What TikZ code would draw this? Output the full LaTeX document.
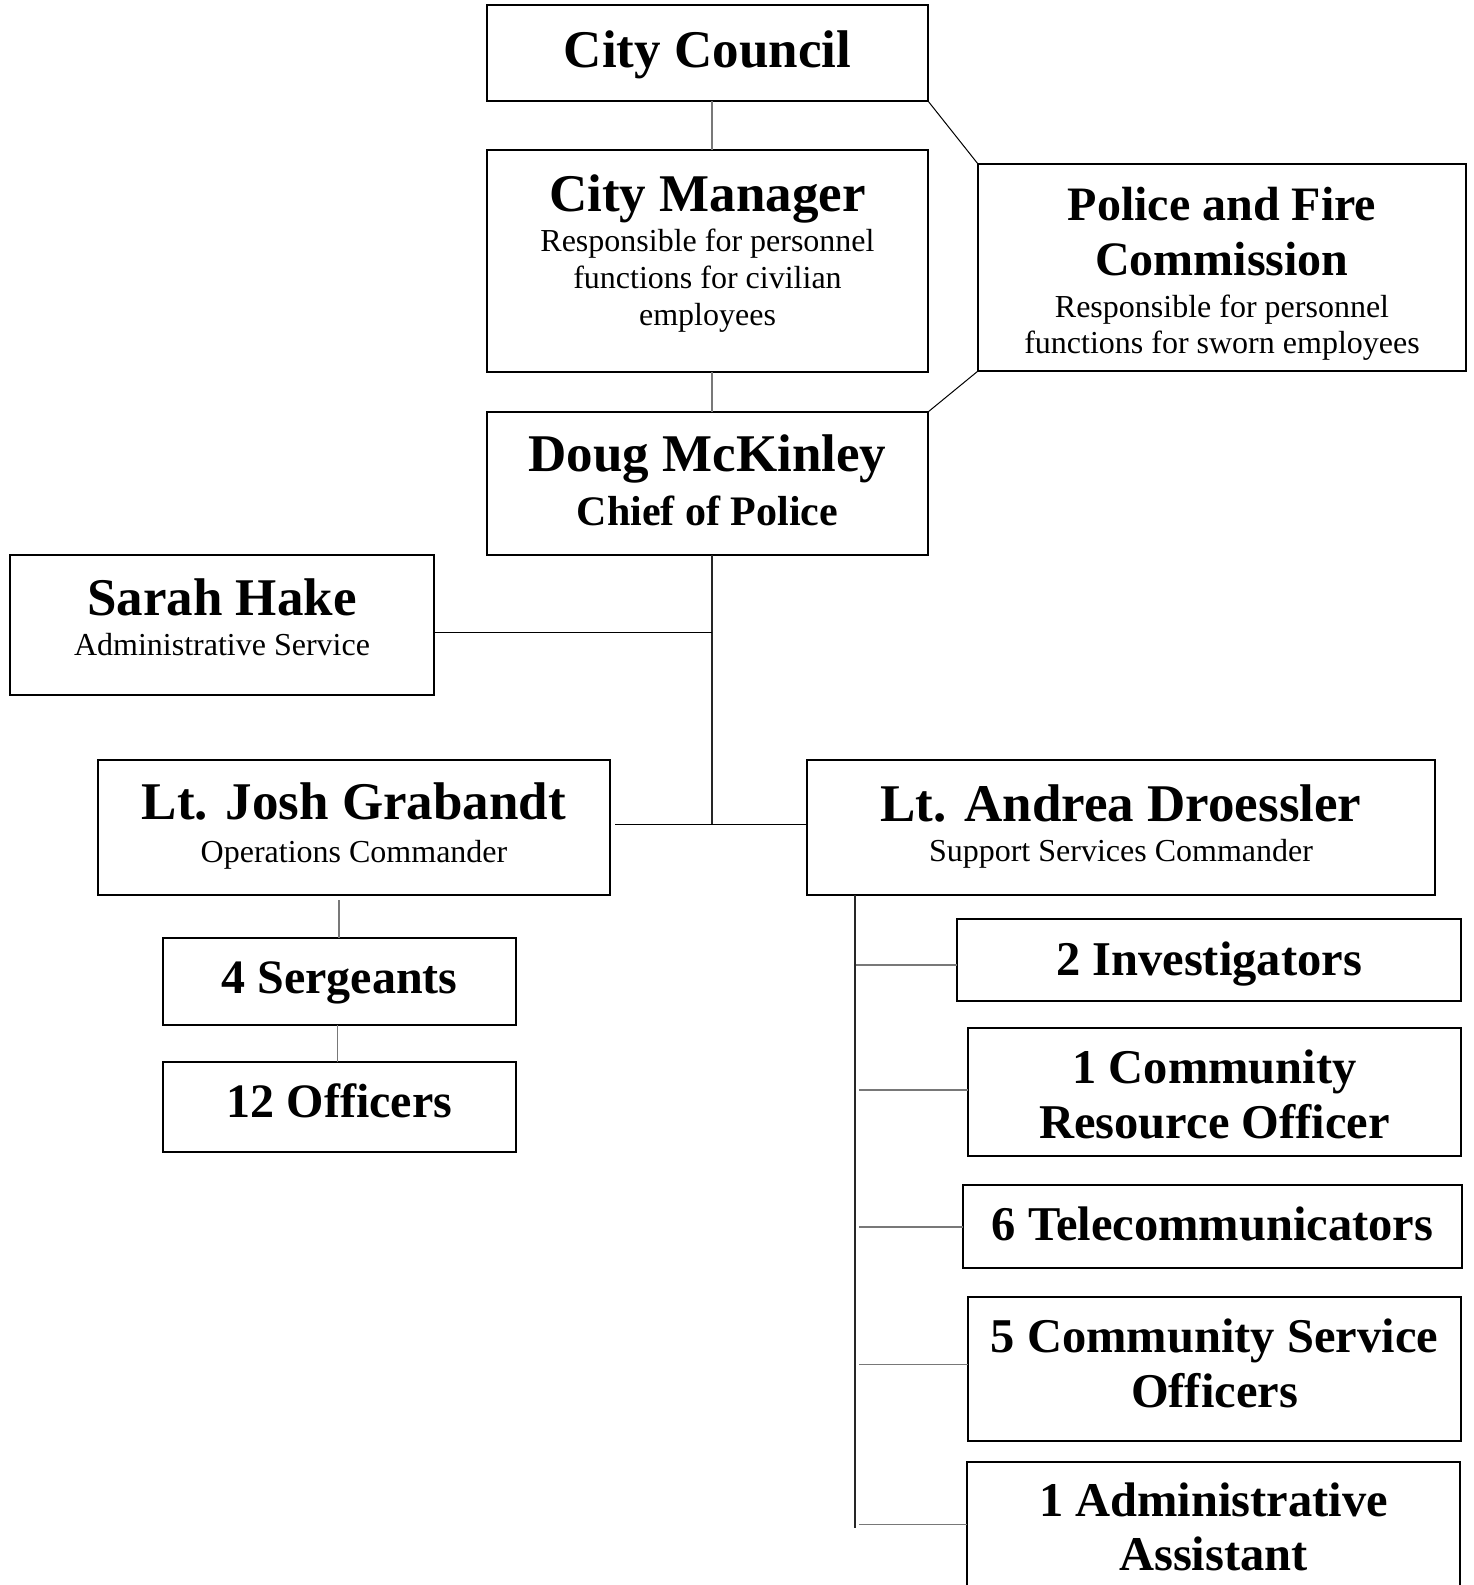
\documentclass[tikz,border=0pt]{standalone}
\usepackage{fontspec}
\setmainfont{Liberation Serif}
\definecolor{lgray}{RGB}{120,120,120}
\begin{document}
\begin{tikzpicture}[x=1pt,y=-1pt,
  box/.style={draw=black, line width=1.8pt, inner sep=0pt, outer sep=0pt, fill=white},
  tt/.style={inner sep=0pt, anchor=base},
  ta/.style={tt, font=\bfseries\fontsize{53}{60}\selectfont},
  tb/.style={tt, font=\bfseries\fontsize{48}{56}\selectfont},
  tc/.style={tt, font=\bfseries\fontsize{42}{50}\selectfont},
  td/.style={tt, font=\bfseries\fontsize{48.5}{56}\selectfont},
  ts/.style={tt, font=\fontsize{32}{38}\selectfont},
  conn/.style={draw=black, line width=1pt},
  trunk/.style={draw=black!85, line width=1.8pt},
  gconn/.style={draw=lgray, line width=1.2pt}]
\clip (0,0) rectangle (1473,1585);
\fill[white] (0,0) rectangle (1473,1585);

% boxes
\node[box, minimum width=441pt, minimum height=96pt] (cc) at (707.5,53) {};
\node[box, minimum width=441pt, minimum height=222pt] (cm) at (707.5,261) {};
\node[box, minimum width=488pt, minimum height=207pt] (pf) at (1222,267.5) {};
\node[box, minimum width=441pt, minimum height=143pt] (chief) at (707.5,483.5) {};
\node[box, minimum width=424pt, minimum height=140pt] (sarah) at (222,625) {};
\node[box, minimum width=512pt, minimum height=135pt] (josh) at (354,827.5) {};
\node[box, minimum width=628pt, minimum height=135pt] (andrea) at (1121,827.5) {};
\node[box, minimum width=353pt, minimum height=87pt] (serg) at (339.5,981.5) {};
\node[box, minimum width=353pt, minimum height=90pt] (off) at (339.5,1107) {};
\node[box, minimum width=504pt, minimum height=82pt] (inv) at (1209,960) {};
\node[box, minimum width=493pt, minimum height=128pt] (cro) at (1214.5,1092) {};
\node[box, minimum width=499pt, minimum height=83pt] (tele) at (1212.5,1226.5) {};
\node[box, minimum width=493pt, minimum height=144pt] (cso) at (1214.5,1369) {};
\node[box, minimum width=493pt, minimum height=158pt] (adm) at (1213.5,1541) {};

% texts
\node[ta] (cc-t) at (707.5,67) {City Council};
\node[ta] (cm-t) at (707.5,211) {City Manager};
\node[ts] (cm-s1) at (707.5,251) {Responsible for personnel};
\node[ts] (cm-s2) at (707.5,288) {functions for civilian};
\node[ts] (cm-s3) at (707.5,325) {employees};
\node[tb] (pf-t1) at (1222,220) {Police and Fire};
\node[tb] (pf-t2) at (1222,275) {Commission};
\node[ts] (pf-s1) at (1222,317) {Responsible for personnel};
\node[ts] (pf-s2) at (1222,353) {functions for sworn employees};
\node[ta] (chief-t) at (707.5,471) {Doug McKinley};
\node[tc] (chief-s) at (707.5,525) {Chief of Police};
\node[ta] (sarah-t) at (222,615) {Sarah Hake};
\node[ts] (sarah-s) at (222,655) {Administrative Service};
\node[ta] (josh-t) at (354,819) {Lt. Josh Grabandt};
\node[ts] (josh-s) at (354,862) {Operations Commander};
\node[ta] (andrea-t) at (1121,821) {Lt. Andrea Droessler};
\node[ts] (andrea-s) at (1121,861) {Support Services Commander};
\node[tb] (serg-t) at (339.5,993) {4 Sergeants};
\node[tb] (off-t) at (339.5,1117) {12 Officers};
\node[td] (inv-t) at (1209,975) {2 Investigators};
\node[td] (cro-t1) at (1214.5,1083) {1 Community};
\node[td] (cro-t2) at (1214.5,1138) {Resource Officer};
\node[td] (tele-t) at (1212.5,1240) {6 Telecommunicators};
\node[td] (cso-t1) at (1214.5,1352) {5 Community Service};
\node[td] (cso-t2) at (1214.5,1407) {Officers};
\node[td] (adm-t1) at (1213.5,1516) {1 Administrative};
\node[td] (adm-t2) at (1213.5,1570) {Assistant};

% connector coordinates
\coordinate (tx) at (712,0);
\coordinate (j) at (712,824);
\coordinate (sj) at (712,632);
\coordinate (jl) at (615,824);
\coordinate (sg) at (339,900);
\coordinate (sg2) at (337.5,0);
\coordinate (ax) at (855,0);
\coordinate (aend) at (855,1528);
\coordinate (b1) at (856,965);
\coordinate (b2) at (859,1090);
\coordinate (b3) at (859,1227);
\coordinate (b4) at (859,1364.5);
\coordinate (b5) at (859,1524.5);

% connectors
\draw[gconn] (cc.south -| tx) -- (cm.north -| tx);
\draw[gconn] (cm.south -| tx) -- (chief.north -| tx);
\draw[conn] (cc.south east) -- (pf.north west);
\draw[conn] (chief.north east) -- (pf.south west);
\draw[trunk] (chief.south -| tx) -- (j);
\draw[conn] (sarah.east |- sj) -- (sj);
\draw[conn] (jl) -- (andrea.west |- j);
\draw[gconn] (sg) -- (serg.north -| sg);
\draw[gconn] (serg.south -| sg2) -- (off.north -| sg2);
\draw[trunk] (andrea.south -| ax) -- (aend);
\draw[gconn] (b1) -- (b1 -| inv.west);
\draw[gconn] (b2) -- (b2 -| cro.west);
\draw[gconn] (b3) -- (b3 -| tele.west);
\draw[gconn] (b4) -- (b4 -| cso.west);
\draw[gconn] (b5) -- (b5 -| adm.west);
\end{tikzpicture}
\end{document}
